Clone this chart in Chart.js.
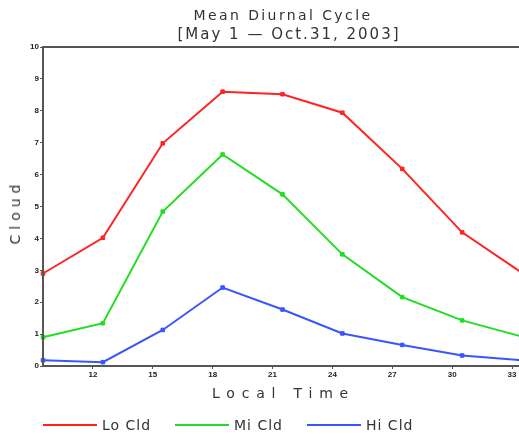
<!DOCTYPE html>
<html>
<head>
<meta charset="utf-8">
<script src="https://cdn.jsdelivr.net/npm/chart.js@4.4.1/dist/chart.umd.min.js"></script>
<style>
  html, body { margin: 0; padding: 0; background: #fff; overflow: hidden; }
  #wrap { position: relative; width: 519px; height: 434px; overflow: hidden; font-family: "DejaVu Sans", sans-serif; color: #333; }
  canvas { position: absolute; left: 0; top: 0; }
  .t { position: absolute; white-space: nowrap; }
  #title1 { left: 0; width: 566px; text-align: center; top: 7px; font-size: 14px; letter-spacing: 2.4px; }
  #title2 { left: 0; width: 578px; text-align: center; top: 25px; font-size: 15px; letter-spacing: 2.0px; }
  #xtitle { left: 212px; top: 385px; font-size: 14px; letter-spacing: 6.8px; }
  #ytitle { left: 15px; top: 212px; font-size: 14px; letter-spacing: 5px; transform: translate(-50%, -50%) rotate(-90deg); }
  .leg { position: absolute; top: 417px; font-size: 14px; letter-spacing: 1px; display: flex; align-items: center; }
  .leg span.ln { display: inline-block; width: 54px; height: 2px; margin-right: 5px; }
</style>
</head>
<body>
<div id="wrap">
  <canvas id="c" width="527" height="434"></canvas>
  <div class="t" id="title1">Mean Diurnal Cycle</div>
  <div class="t" id="title2">[May 1 — Oct.31, 2003]</div>
  <div class="t" id="xtitle">Local Time</div>
  <div class="t" id="ytitle">Cloud</div>
  <div id="legend"></div>
</div>
<script>
const hours = [9.5, 12.5, 15.5, 18.5, 21.5, 24.5, 27.5, 30.5, 33.5];
const loCld = [2.9, 4.02, 6.98, 8.6, 8.52, 7.94, 6.18, 4.19, 2.92];
const miCld = [0.9, 1.34, 4.84, 6.63, 5.38, 3.5, 2.16, 1.43, 0.92];
const hiCld = [0.18, 0.12, 1.13, 2.46, 1.77, 1.02, 0.66, 0.33, 0.18];
const xTickValues = [12, 15, 18, 21, 24, 27, 30, 33];
const yTickValues = [0, 1, 2, 3, 4, 5, 6, 7, 8, 9, 10];
const seriesNames = ['Lo Cld', 'Mi Cld', 'Hi Cld'];
const seriesColors = ['#ff2424', '#22dd22', '#3a55ff'];
const seriesData = [loCld, miCld, hiCld];

const datasets = seriesData.map((arr, i) => ({
  label: seriesNames[i],
  data: arr.map((v, j) => ({ x: hours[j], y: v })),
  borderColor: seriesColors[i],
  backgroundColor: seriesColors[i],
  borderWidth: 2,
  pointStyle: 'rect',
  pointRadius: 2.5,
  pointBorderWidth: 1,
  tension: 0,
  clip: false
}));

const frame = {
  id: 'frame',
  afterDatasetsDraw(chart) {
    const a = chart.chartArea, ctx = chart.ctx;
    ctx.save();
    ctx.strokeStyle = '#555';
    ctx.lineWidth = 2;
    ctx.strokeRect(a.left, a.top, a.right - a.left, a.bottom - a.top);
    ctx.restore();
  }
};

const tickFont = { family: 'Liberation Sans', size: 8, weight: 'bold' };

new Chart(document.getElementById('c'), {
  type: 'line',
  data: { datasets },
  options: {
    responsive: false,
    devicePixelRatio: 1,
    animation: false,
    layout: { padding: { left: 0, right: 1, top: 47, bottom: 0 } },
    plugins: { legend: { display: false }, title: { display: false }, tooltip: { enabled: false } },
    scales: {
      x: {
        type: 'linear',
        min: 9.5, max: 33.5,
        afterBuildTicks: ax => { ax.ticks = xTickValues.map(v => ({ value: v })); },
        afterFit: ax => { ax.height = 68; ax.paddingLeft = 0; ax.paddingRight = 0; },
        grid: { display: true, drawOnChartArea: false, drawTicks: true, tickLength: 3, color: '#555' },
        border: { display: true, color: '#555', width: 2 },
        ticks: { font: tickFont, color: '#222', padding: 1, maxRotation: 0 }
      },
      y: {
        min: 0, max: 10,
        afterBuildTicks: ax => { ax.ticks = yTickValues.map(v => ({ value: v })); },
        afterFit: ax => { ax.width = 43; ax.paddingTop = 0; ax.paddingBottom = 0; },
        grid: { display: true, drawOnChartArea: false, drawTicks: true, tickLength: 3, color: '#555' },
        border: { display: true, color: '#555', width: 2 },
        ticks: { font: tickFont, color: '#222', padding: 1 }
      }
    }
  },
  plugins: [frame]
});

const legendLefts = [43, 175, 307];
const legend = document.getElementById('legend');
seriesNames.forEach((n, i) => {
  const d = document.createElement('div');
  d.className = 'leg';
  d.style.left = legendLefts[i] + 'px';
  d.innerHTML = '<span class="ln" style="background:' + seriesColors[i] + '"></span>' + n;
  legend.appendChild(d);
});
</script>
</body>
</html>
